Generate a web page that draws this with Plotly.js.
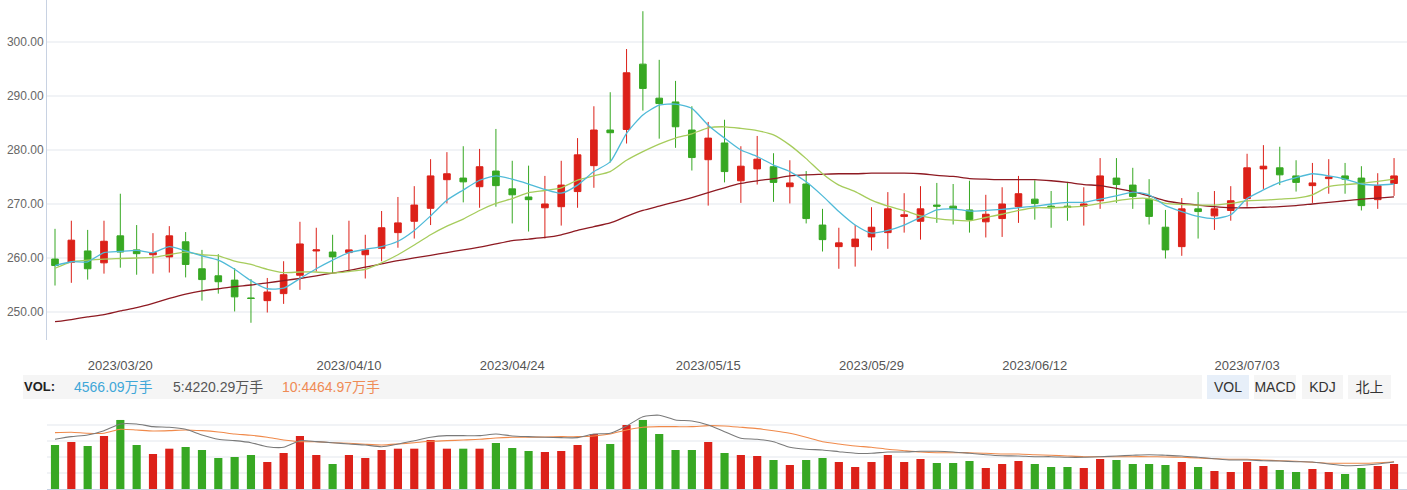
<!DOCTYPE html>
<html><head><meta charset="utf-8">
<script src="https://cdn.plot.ly/plotly-3.0.1.min.js"></script>
<style>
html,body{margin:0;padding:0;background:#fff;overflow:hidden;width:1407px;height:490px}
#chart{position:absolute;left:0;top:0;width:1407px;height:490px}
.band{position:absolute;left:23px;top:375px;width:1179px;height:24px;background:#f5f5f5}
.t{position:absolute;top:375px;height:24px;line-height:24px;white-space:nowrap;font-family:"Liberation Sans",Arial,"Noto Sans CJK SC",sans-serif;font-size:14px}
.btn{position:absolute;top:375px;height:24px;line-height:24px;text-align:center;background:#f5f5f5;color:#333;font-family:"Liberation Sans",Arial,"Noto Sans CJK SC",sans-serif;font-size:14px}
</style></head><body>
<div id="chart"></div>
<div class="band"></div>
<div class="t" style="left:24px;font-weight:bold;color:#222;font-size:13px">VOL:</div>
<div class="t" id="v0" style="left:74px;color:#3fa7d8"></div>
<div class="t" id="v5" style="left:173px;color:#555"></div>
<div class="t" id="v10" style="left:282px;color:#ef8b55"></div>
<div class="btn" style="left:1207px;width:42px;background:#e7eff9">VOL</div>
<div class="btn" style="left:1254px;width:42px">MACD</div>
<div class="btn" style="left:1302px;width:41px">KDJ</div>
<div class="btn" style="left:1348px;width:43px">北上</div>
<script>
const dates = ['2023/03/14','2023/03/15','2023/03/16','2023/03/17','2023/03/20','2023/03/21','2023/03/22','2023/03/23','2023/03/24','2023/03/27','2023/03/28','2023/03/29','2023/03/30','2023/03/31','2023/04/03','2023/04/04','2023/04/06','2023/04/07','2023/04/10','2023/04/11','2023/04/12','2023/04/13','2023/04/14','2023/04/17','2023/04/18','2023/04/19','2023/04/20','2023/04/21','2023/04/24','2023/04/25','2023/04/26','2023/04/27','2023/04/28','2023/05/04','2023/05/05','2023/05/08','2023/05/09','2023/05/10','2023/05/11','2023/05/12','2023/05/15','2023/05/16','2023/05/17','2023/05/18','2023/05/19','2023/05/22','2023/05/23','2023/05/24','2023/05/25','2023/05/26','2023/05/29','2023/05/30','2023/05/31','2023/06/01','2023/06/02','2023/06/05','2023/06/06','2023/06/07','2023/06/08','2023/06/09','2023/06/12','2023/06/13','2023/06/14','2023/06/15','2023/06/16','2023/06/19','2023/06/20','2023/06/21','2023/06/26','2023/06/27','2023/06/28','2023/06/29','2023/06/30','2023/07/03','2023/07/04','2023/07/05','2023/07/06','2023/07/07','2023/07/10','2023/07/11','2023/07/12','2023/07/13','2023/07/14'];
const openP = [259.8,259.2,261.3,259.1,264.1,261.5,260.6,260.2,263.0,258.0,256.7,255.9,252.6,252.1,253.4,256.8,261.3,261.1,261.0,260.6,261.8,264.7,266.8,269.2,274.5,274.8,273.2,276.1,272.8,271.3,269.3,269.5,272.3,277.1,283.7,283.8,295.9,289.6,288.9,283.7,278.2,281.3,274.3,276.5,276.9,273.2,273.7,266.1,262.1,262.1,263.9,264.7,267.7,266.8,269.8,269.6,268.9,266.7,267.3,269.5,270.9,269.6,269.6,269.6,270.6,274.8,273.5,270.9,265.7,262.1,269.1,267.8,268.8,271.0,276.5,276.7,275.2,273.4,274.7,275.2,274.8,270.8,273.8];
const highP = [265.4,266.9,265.2,266.9,271.9,266.1,264.6,265.9,264.8,261.5,260.7,258.1,256.1,256.3,259.4,266.7,265.6,264.3,266.9,264.3,268.7,271.3,273.3,278.3,279.6,280.7,280.2,283.9,278.0,277.1,275.2,278.0,282.2,288.1,290.7,298.7,305.7,296.7,292.8,288.1,285.2,285.6,280.7,282.6,279.4,278.1,276.1,269.1,265.6,266.1,269.4,272.2,272.0,273.3,273.9,273.7,274.3,271.7,273.1,275.2,274.4,272.4,274.1,273.1,278.5,278.5,276.7,274.6,268.9,271.1,272.2,272.4,273.3,279.3,280.9,280.6,278.1,277.6,278.3,277.6,277.0,275.7,278.5];
const lowP = [254.9,255.4,256.0,257.1,258.2,256.9,257.1,257.3,256.4,252.1,253.4,250.1,248.0,249.9,251.5,254.1,257.5,257.2,257.8,256.2,259.4,261.9,263.6,266.1,270.1,270.3,269.3,269.5,266.4,264.9,263.6,266.0,269.3,273.0,277.7,281.2,287.3,282.1,280.4,276.2,269.7,274.0,270.2,273.6,270.4,270.1,266.4,261.2,258.0,258.4,261.4,261.7,264.7,263.4,266.5,266.2,264.7,263.8,263.9,266.5,267.1,265.6,266.9,266.0,269.1,270.2,269.1,266.2,259.9,260.4,263.6,265.2,266.9,269.5,272.8,273.5,272.3,270.2,271.9,271.9,268.8,269.1,271.5];
const closeP = [258.6,263.3,258.0,263.1,261.1,260.8,261.0,264.1,258.8,256.0,255.6,252.8,252.5,253.7,256.9,262.6,261.5,260.2,261.5,261.5,265.6,266.5,269.8,275.2,275.6,274.1,276.9,273.4,271.7,270.8,270.0,273.5,279.1,283.7,283.2,294.3,291.4,288.6,284.3,278.6,282.2,276.0,277.0,278.3,274.0,273.9,267.3,263.4,262.8,263.5,265.7,269.1,268.0,269.1,269.6,269.1,267.1,268.1,270.0,271.9,270.1,269.3,269.4,270.0,275.2,273.6,271.4,267.7,261.5,269.1,268.6,269.1,270.6,276.7,277.0,275.4,274.0,273.9,275.0,274.6,269.7,273.4,275.2];
const ma5 = [258.6,259.3,259.3,261.0,261.2,261.4,261.0,262.1,261.3,260.4,259.6,257.9,255.8,254.3,254.4,256.2,258.0,259.6,261.0,261.6,262.1,263.1,265.1,267.8,270.7,272.6,274.4,275.2,274.6,273.7,272.7,272.0,273.5,276.0,277.8,283.1,286.5,288.3,288.5,287.7,284.6,282.2,280.0,278.8,277.2,276.0,274.1,271.5,268.6,266.1,264.6,265.1,266.1,267.5,268.9,269.1,268.7,268.8,269.0,269.3,269.6,270.0,270.3,270.3,270.9,271.5,272.2,271.7,269.7,268.6,267.7,267.3,268.0,271.0,272.6,274.0,274.9,275.6,275.2,274.6,273.7,273.5,273.7];
const ma10 = [258.1,259.3,259.6,259.8,259.9,260.0,260.1,260.6,261.1,260.6,260.4,259.4,258.8,257.9,257.3,257.4,257.4,257.2,257.5,257.9,259.1,260.6,262.4,264.3,265.9,267.2,268.8,270.1,271.0,272.1,272.5,273.0,274.4,275.2,276.0,278.1,279.7,281.1,282.2,283.0,284.1,284.3,284.0,283.6,282.8,280.9,278.4,275.6,273.5,272.3,270.7,269.6,268.8,267.8,267.3,267.0,266.9,267.5,268.1,268.8,269.3,269.3,269.4,269.6,270.1,270.6,271.0,271.0,270.1,269.9,269.8,269.8,270.1,270.6,270.7,270.9,271.1,271.7,273.2,273.6,273.8,274.2,274.6];
const ma30 = [248.2,248.6,249.1,249.5,250.2,250.8,251.6,252.5,253.3,253.9,254.3,254.7,255.0,255.4,255.8,256.2,256.7,257.2,257.7,258.3,258.9,259.5,260.0,260.5,261.0,261.5,262.0,262.6,263.2,263.5,263.8,264.3,265.1,265.8,266.5,267.7,268.8,269.6,270.4,271.2,272.1,273.0,273.8,274.3,274.7,275.2,275.4,275.5,275.6,275.6,275.7,275.7,275.7,275.6,275.3,275.1,274.7,274.6,274.5,274.5,274.5,274.3,274.0,273.6,273.4,272.9,272.3,271.5,270.6,270.1,269.8,269.5,269.3,269.3,269.4,269.5,269.7,270.0,270.3,270.6,270.9,271.1,271.3];
const volume = [8034,8582,7852,9678,12599,8034,6391,7359,7669,7121,5661,5843,6208,4930,6574,9678,6208,4565,6208,5661,7121,7359,7359,8947,7359,7359,7359,8400,7487,6939,6756,6939,8034,10043,8217,11686,12599,10043,7121,7121,8582,6574,6208,6026,5295,4382,5295,5661,4930,4017,4930,6208,4930,5478,4748,4748,5113,3835,4565,5113,4565,4017,4017,3835,5478,5295,4565,4565,4382,4930,4017,3287,3104,4930,4200,3469,3104,3652,3104,2739,3835,4200,4566];
const volMa5 = [9075,9550,9860,10646,11869,11869,11376,11266,10901,9860,9075,8820,8454,7724,7614,8820,8637,8454,8217,8034,7724,8217,8820,9440,9733,9733,9733,10043,9678,9550,9440,9367,9367,10043,10171,11504,13202,13458,12599,12417,11686,10463,9258,9075,8637,7614,7249,7121,6811,6519,6519,6756,6756,6884,6884,6756,6519,6263,6081,6026,5898,5898,5788,5788,5898,6026,6154,6263,6154,6026,5788,5533,5295,5295,5168,5113,4985,4930,4565,4255,4328,4565,4930];
const volMa10 = [10280,10353,10171,10171,10901,10773,10591,10646,10773,10646,10408,10043,9806,9440,8947,8637,8637,8454,8345,8162,8034,8217,8454,8710,8820,8947,9075,9313,9440,9440,9495,9550,9550,9678,10043,10773,11266,11376,11376,11376,11559,11504,11266,11011,10646,10171,9440,8637,8217,7852,7614,7249,6994,6756,6628,6628,6628,6519,6391,6391,6263,6154,6026,5898,5898,5898,5898,5898,5843,5788,5661,5533,5423,5423,5295,5168,5058,4875,4693,4693,4693,4802,4985];
const tickDates = ['2023/03/20','2023/04/10','2023/04/24','2023/05/15','2023/05/29','2023/06/12','2023/07/03'];
const priceTicks = [250,260,270,280,290,300];
const volLabel = {cur:'4566.09万手', ma5:'5:4220.29万手', ma10:'10:4464.97万手'};

document.getElementById('v0').textContent = volLabel.cur;
document.getElementById('v5').textContent = volLabel.ma5;
document.getElementById('v10').textContent = volLabel.ma10;

const RED = '#dc2119', GREEN = '#37a823';
const W = 1407, H = 490;
const xr = [-0.49, -0.49 + (W - 47) / 16.33];
const volColors = closeP.map((c, i) => c >= openP[i] ? RED : GREEN);

const traces = [
  {type:'candlestick', x:dates, open:openP, high:highP, low:lowP, close:closeP, xaxis:'x', yaxis:'y',
   increasing:{line:{color:RED,width:1}, fillcolor:RED},
   decreasing:{line:{color:GREEN,width:1}, fillcolor:GREEN},
   whiskerwidth:0, hoverinfo:'skip'},
  {type:'scatter', mode:'lines', x:dates, y:ma30, line:{color:'#8e1a22',width:1.3,shape:'spline',smoothing:0.6}, hoverinfo:'skip'},
  {type:'scatter', mode:'lines', x:dates, y:ma10, line:{color:'#a6cc5c',width:1.3,shape:'spline',smoothing:0.6}, hoverinfo:'skip'},
  {type:'scatter', mode:'lines', x:dates, y:ma5, line:{color:'#4fbad8',width:1.3,shape:'spline',smoothing:0.6}, hoverinfo:'skip'},
  {type:'bar', x:dates, y:volume, xaxis:'x2', yaxis:'y2', marker:{color:volColors,line:{width:0}}, hoverinfo:'skip'},
  {type:'scatter', mode:'lines', x:dates, y:volMa10, xaxis:'x2', yaxis:'y2', line:{color:'#f08a4b',width:1.1,shape:'spline',smoothing:0.6}, hoverinfo:'skip'},
  {type:'scatter', mode:'lines', x:dates, y:volMa5, xaxis:'x2', yaxis:'y2', line:{color:'#7a7a7a',width:1.1,shape:'spline',smoothing:0.6}, hoverinfo:'skip'}
];

const layout = {
  width:W, height:H, margin:{l:0,r:0,t:0,b:0}, paper_bgcolor:'#fff', plot_bgcolor:'#fff',
  showlegend:false, boxgap:0.42, bargap:0.5, hovermode:false,
  font:{family:'"Liberation Sans", Arial, sans-serif'},
  xaxis:{domain:[47/W,1], type:'category', range:xr, tickvals:tickDates, ticktext:tickDates,
         showgrid:false, zeroline:false, showline:false, ticks:'', ticklabelstandoff:16,
         tickfont:{size:13,color:'#555'}, rangeslider:{visible:false}, anchor:'y'},
  yaxis:{domain:[1-340/H,1], range:[244.81,307.78], tickvals:priceTicks, tickformat:'.2f',
         showgrid:true, gridcolor:'#f1f3f6', gridwidth:2, showline:true, linecolor:'#c8d2e2', linewidth:1,
         ticks:'', tickfont:{size:12,color:'#666'}, zeroline:false, anchor:'x'},
  xaxis2:{domain:[47/W,1], type:'category', range:xr, anchor:'y2', showticklabels:false, showgrid:false,
          zeroline:false, showline:true, linecolor:'#c8d2e2', linewidth:1, ticks:''},
  yaxis2:{domain:[1/H, 1-409/H], range:[0,14600], dtick:2920, showgrid:true, gridcolor:'#f1f3f6', gridwidth:1.5,
          showticklabels:false, zeroline:false, showline:false, ticks:'', anchor:'x2'}
};
Plotly.newPlot('chart', traces, layout, {staticPlot:true, displayModeBar:false});
</script>
</body></html>
